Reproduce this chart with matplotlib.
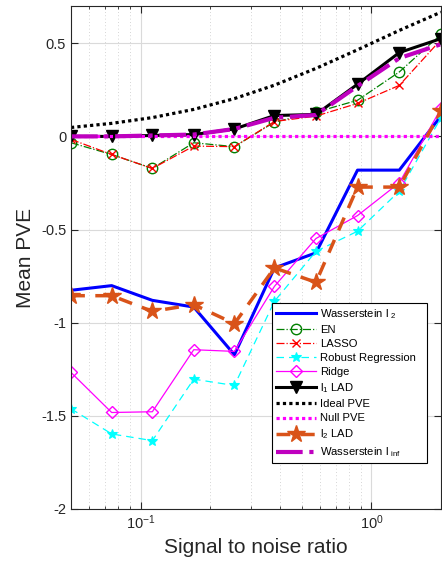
import matplotlib
matplotlib.use("Agg")
import matplotlib.pyplot as plt
from matplotlib.ticker import FixedLocator, LogLocator, NullFormatter

plt.rcParams["font.family"] = ["Liberation Sans", "DejaVu Sans"]
plt.rcParams["mathtext.default"] = "regular"

snr = [0.05, 0.075, 0.1125, 0.17, 0.255, 0.38, 0.575, 0.87, 1.32, 2.0]

wass_l2 = [-0.826, -0.801, -0.880, -0.916, -1.172, -0.706, -0.625, -0.181, -0.181, 0.11]
en = [-0.034, -0.097, -0.172, -0.034, -0.055, 0.077, 0.130, 0.194, 0.346, 0.548]
lasso = [-0.016, -0.097, -0.172, -0.052, -0.055, 0.080, 0.109, 0.177, 0.274, 0.520]
robust = [-1.462, -1.597, -1.633, -1.303, -1.337, -0.885, -0.617, -0.509, -0.294, 0.10]
ridge = [-1.267, -1.482, -1.478, -1.145, -1.154, -0.805, -0.548, -0.425, -0.249, 0.15]
l1_lad = [0.0, 0.0, 0.005, 0.010, 0.040, 0.112, 0.118, 0.280, 0.450, 0.525]
ideal = [0.048, 0.070, 0.101, 0.145, 0.203, 0.275, 0.365, 0.465, 0.569, 0.667]
null = [0.0, 0.0, 0.0, 0.0, 0.0, 0.0, 0.0, 0.0, 0.0, 0.0]
l2_lad = [-0.855, -0.855, -0.939, -0.903, -1.005, -0.706, -0.783, -0.272, -0.272, 0.136]
wass_inf = [0.0, 0.0, 0.005, 0.010, 0.040, 0.100, 0.115, 0.270, 0.420, 0.495]

yticks = [-2, -1.5, -1, -0.5, 0, 0.5]
ytick_labels = ["-2", "-1.5", "-1", "-0.5", "0", "0.5"]

fig = plt.figure(figsize=(4.42, 5.66), dpi=100)
ax = fig.add_axes([71 / 442, 57 / 566, 370 / 442, 503 / 566])

ax.plot(snr, wass_l2, color="#0000FF", lw=2.2, label="Wasserstein l $_{2}$")
ax.plot(snr, en, color="#008000", lw=0.9, ls="-.", marker="o", ms=7.5, mfc="none", mew=1.0, label="EN")
ax.plot(snr, lasso, color="#FF0000", lw=0.9, ls="-.", marker="x", ms=6, mew=1.0, label="LASSO")
ax.plot(snr, robust, color="#00FFFF", lw=0.9, ls=(0, (6, 4)), marker="*", ms=7, mew=0.8, label="Robust Regression")
ax.plot(snr, ridge, color="#FF00FF", lw=0.9, marker="D", ms=6, mfc="none", mew=1.0, label="Ridge")
ax.plot(snr, l1_lad, color="black", lw=2.2, marker="v", ms=8, mfc="black", label="l$_{1}$ LAD")
ax.plot(snr, ideal, color="black", lw=2.3, ls=(0, (1, 1)), label="Ideal PVE")
ax.plot(snr, null, color="#FF00FF", lw=2.3, ls=(0, (1, 1)), label="Null PVE")
ax.plot(snr, l2_lad, color="#D95319", lw=2.5, ls=(0, (4, 3)), marker="*", ms=13, mec="#D95319",
        label="l$_{2}$ LAD")
ax.plot(snr, wass_inf, color="#BF00BF", lw=3, ls="-.", label="Wasserstein l $_{inf}$")

ax.set_xscale("log")
ax.set_xlim(0.05, 2.0)
ax.set_ylim(-2, 0.7)
ax.yaxis.set_major_locator(FixedLocator(yticks))
ax.set_yticklabels(ytick_labels)
ax.xaxis.set_major_locator(LogLocator(base=10, numticks=10))
ax.xaxis.set_minor_locator(LogLocator(base=10, subs=range(2, 10), numticks=10))
ax.xaxis.set_minor_formatter(NullFormatter())

ax.grid(True, which="major", color="#DADADA", lw=0.8)
ax.grid(True, which="minor", axis="x", color="#C8C8C8", lw=0.6, ls=(0, (1, 3)))
ax.set_axisbelow(True)

ax.tick_params(which="both", direction="in", top=True, right=True, colors="#262626", labelsize=10.5)
ax.tick_params(which="major", length=5)
ax.tick_params(which="minor", length=2.5)
for s in ax.spines.values():
    s.set_color("#262626")
    s.set_linewidth(0.8)

ax.set_xlabel("Signal to noise ratio", fontsize=15, color="#262626")
ax.set_ylabel("Mean PVE", fontsize=15, color="#262626")

# legend box spans a fixed width like the MATLAB one
leg = ax.legend(loc="upper left", bbox_to_anchor=(0.543, 0.0, 0.419, 0.41), mode="expand",
                fontsize=8.1, frameon=True, fancybox=False, framealpha=1, edgecolor="black",
                handlelength=3.6, borderpad=0.35, labelspacing=0.37, handletextpad=0.35,
                borderaxespad=0)
leg.get_frame().set_linewidth(0.8)

fig.savefig("out.png", dpi=100)
